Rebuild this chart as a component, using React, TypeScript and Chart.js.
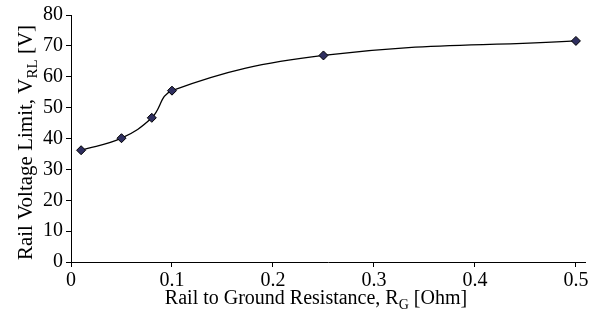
import React, { useEffect, useRef } from "react";
import { Chart, registerables } from "chart.js";

Chart.register(...registerables);

// Data
const resistance = [0.01, 0.05, 0.08, 0.1, 0.25, 0.5];
const voltageLimit = [36.2, 40.1, 46.7, 55.5, 66.9, 71.6];
const xTickValues = [0, 0.1, 0.2, 0.3, 0.4, 0.5];
const yTickValues = [0, 10, 20, 30, 40, 50, 60, 70, 80];

const xTitleParts = ["Rail to Ground Resistance, R", "G", " [Ohm]"];
const yTitleParts = ["Rail Voltage Limit, V", "RL", " [V]"];

const FONT = "'Liberation Serif', 'Times New Roman', serif";
const FONT_SIZE = 20;

function drawSubTitle(
  ctx: CanvasRenderingContext2D,
  parts: string[],
  cx: number,
  baseY: number,
  size: number,
  subSize: number
) {
  ctx.font = `${size}px ${FONT}`;
  const w0 = ctx.measureText(parts[0]).width;
  const w2 = ctx.measureText(parts[2]).width;
  ctx.font = `${subSize}px ${FONT}`;
  const w1 = ctx.measureText(parts[1]).width;
  const total = w0 + w1 + w2;
  let x = cx - total / 2;
  ctx.textAlign = "left";
  ctx.textBaseline = "alphabetic";
  ctx.fillStyle = "#000";
  ctx.font = `${size}px ${FONT}`;
  ctx.fillText(parts[0], x, baseY);
  x += w0;
  ctx.font = `${subSize}px ${FONT}`;
  ctx.fillText(parts[1], x, baseY + 5);
  x += w1;
  ctx.font = `${size}px ${FONT}`;
  ctx.fillText(parts[2], x, baseY);
}

const titlePlugin = {
  id: "subTitles",
  afterDraw(chart: any) {
    const ctx: CanvasRenderingContext2D = chart.ctx;
    const area = chart.chartArea;
    ctx.save();
    drawSubTitle(ctx, xTitleParts, (area.left + area.right) / 2 - 12, 304, 20, 14);
    ctx.translate(32, (area.top + area.bottom) / 2 + 4);
    ctx.rotate(-Math.PI / 2);
    drawSubTitle(ctx, yTitleParts, 0, 0, 21, 15);
    ctx.restore();
  },
};

export default function App() {
  const canvasRef = useRef<HTMLCanvasElement | null>(null);

  useEffect(() => {
    document.body.style.margin = "0";
    const canvas = canvasRef.current;
    if (!canvas) return;
    const chart = new Chart(canvas, {
      type: "scatter",
      data: {
        datasets: [
          {
            data: resistance.map((x, i) => ({ x, y: voltageLimit[i] })),
            showLine: true,
            tension: 0.4,
            borderColor: "#000",
            borderWidth: 1.3,
            pointStyle: "rectRot",
            pointRadius: 4.5,
            pointHoverRadius: 4.5,
            pointBackgroundColor: "#2f2f60",
            pointBorderColor: "#000",
            pointBorderWidth: 1,
          },
        ],
      },
      options: {
        animation: false,
        responsive: false,
        layout: { padding: { top: 7, right: 10, left: 0, bottom: 0 } },
        plugins: { legend: { display: false }, tooltip: { enabled: false } },
        scales: {
          x: {
            type: "linear",
            min: 0,
            max: 0.509,
            afterBuildTicks: (scale: any) => {
              scale.ticks = xTickValues.map((v) => ({ value: v }));
            },
            afterFit: (scale: any) => {
              scale.height = 56;
            },
            grid: {
              drawOnChartArea: false,
              drawTicks: true,
              tickLength: 5,
              tickColor: "#000",
            },
            border: { display: true, color: "#000", width: 1 },
            ticks: {
              color: "#000",
              font: { family: FONT, size: FONT_SIZE },
              padding: 2,
              maxRotation: 0,
              autoSkip: false,
              callback: (v: any) => String(v),
            },
          },
          y: {
            type: "linear",
            min: 0,
            max: 80,
            afterBuildTicks: (scale: any) => {
              scale.ticks = yTickValues.map((v) => ({ value: v }));
            },
            afterFit: (scale: any) => {
              scale.width = 71;
            },
            grid: {
              drawOnChartArea: false,
              drawTicks: true,
              tickLength: 5,
              tickColor: "#000",
            },
            border: { display: true, color: "#000", width: 1 },
            ticks: {
              color: "#000",
              font: { family: FONT, size: FONT_SIZE },
              padding: 3,
              autoSkip: false,
              callback: (v: any) => String(v),
            },
          },
        },
      },
      plugins: [titlePlugin],
    });
    return () => chart.destroy();
  }, []);

  return (
    <div style={{ width: 595, height: 318 }}>
      <canvas ref={canvasRef} width={595} height={318} />
    </div>
  );
}
